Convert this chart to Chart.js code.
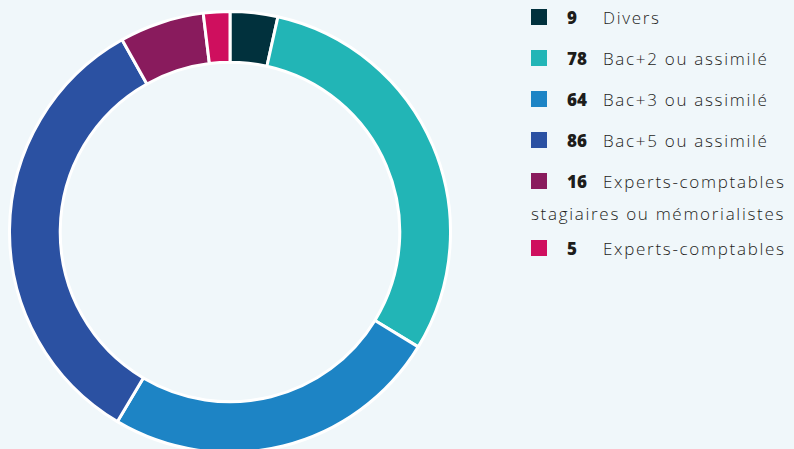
<!DOCTYPE html>
<html><head><meta charset="utf-8">
<script src="https://cdn.jsdelivr.net/npm/chart.js@4"></script>
<style>
html,body{margin:0;padding:0;background:#f0f7fa;width:794px;height:449px;overflow:hidden;font-family:"Open Sans",Lato,sans-serif;}
#wrap{position:absolute;left:8px;top:10px;width:444px;height:444px;}
#legend{position:absolute;left:531px;top:2px;width:263px;color:#1d1d1b;font-size:17px;line-height:32px;}
.item{margin-bottom:9px;white-space:normal;}
.item.w{margin-bottom:3px;}
.sw{display:inline-block;width:16px;height:16px;vertical-align:-1px;margin-right:20px;}
.num{display:inline-block;width:36px;font-weight:800;}
.lbl{font-weight:300;letter-spacing:1.7px;}
</style></head><body>
<div id="wrap"><canvas id="c" width="444" height="444"></canvas></div>
<div id="legend"></div>
<script>
const categories = ["Divers","Bac+2 ou assimilé","Bac+3 ou assimilé","Bac+5 ou assimilé","Experts-comptables stagiaires ou mémorialistes","Experts-comptables"];
const values = [9,78,64,86,16,5];
const colors = ["#01313d","#22b5b6","#1d84c5","#2b51a2","#891b5d","#cf0f5e"];

new Chart(document.getElementById('c'),{
  type:'doughnut',
  data:{labels:categories,datasets:[{data:values,backgroundColor:colors,borderColor:'#ffffff',borderWidth:3}]},
  options:{responsive:false,animation:false,cutout:'77%',
    layout:{padding:0},
    plugins:{legend:{display:false},tooltip:{enabled:false}}}
});
const lg=document.getElementById('legend');
categories.forEach((c,i)=>{
  const d=document.createElement('div');d.className='item'+(i===4?' w':'');
  d.innerHTML='<span class="sw" style="background:'+colors[i]+'"></span><span class="num">'+values[i]+'</span><span class="lbl">'+c+'</span>';
  lg.appendChild(d);
});
</script>
</body></html>
